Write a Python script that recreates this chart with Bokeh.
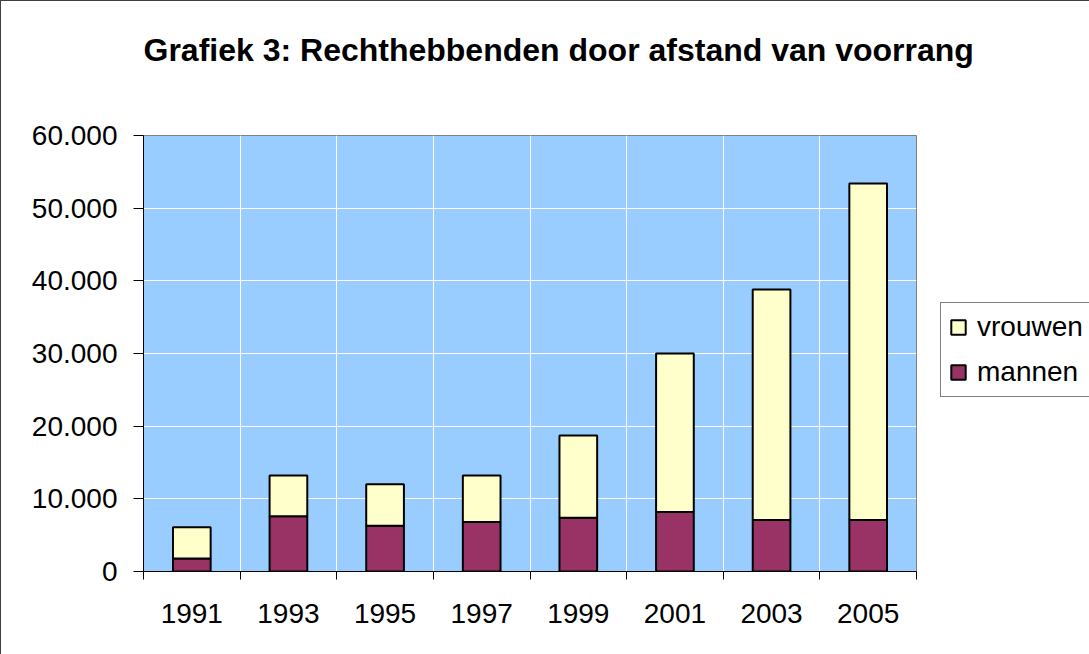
from bokeh.plotting import figure
from bokeh.models import (ColumnDataSource, Range1d, FixedTicker, Legend, LegendItem, Title)
from bokeh.embed import file_html
from bokeh.resources import INLINE

# ---- data ----
years = ["1991", "1993", "1995", "1997", "1999", "2001", "2003", "2005"]
mannen = [1800, 7600, 6300, 6800, 7400, 8200, 7100, 7100]
vrouwen = [4300, 5600, 5700, 6400, 11300, 21800, 31700, 46300]
y_ticks = [0, 10000, 20000, 30000, 40000, 50000, 60000]
y_tick_labels = ["0", "10.000", "20.000", "30.000", "40.000", "50.000", "60.000"]
title_text = "Grafiek 3: Rechthebbenden door afstand van voorrang"

FONT = "Liberation Sans"

xpos = [i + 0.5 for i in range(len(years))]
source = ColumnDataSource(dict(x=xpos, mannen=mannen, vrouwen=vrouwen))

p = figure(frame_width=773, frame_height=436, output_backend="svg", toolbar_location=None,
           x_range=Range1d(0, len(years)), y_range=Range1d(0, 60000),
           min_border_left=142, min_border_right=173, min_border_top=134,
           min_border_bottom=83)
p.styles = {"border-left": "1px solid #404040", "border-top": "1px solid #404040"}
p.background_fill_color = "#99CCFF"
p.border_fill_color = "white"
p.outline_line_color = "#808080"
p.outline_line_width = 1

renderers = p.vbar_stack(["mannen", "vrouwen"], x="x", width=0.39, source=source,
                         fill_color=["#993366", "#FFFFCC"], line_color="black",
                         line_width=2)

# title: a thin spacer next to the frame, then the real title further out
p.title.text = ""
p.add_layout(Title(text=" ", text_font_size="1px", standoff=60), "above")
p.add_layout(Title(text=title_text, align="left", offset=0, vertical_align="bottom",
                   standoff=10, text_font=FONT, text_font_style="bold",
                   text_font_size="32px", text_color="black"), "above")

# y axis
yax = p.yaxis[0]
yax.ticker = FixedTicker(ticks=y_ticks)
yax.major_label_overrides = {t: l for t, l in zip(y_ticks, y_tick_labels)}
yax.axis_line_color = "black"
yax.major_tick_line_color = "black"
yax.major_tick_out = 10
yax.major_tick_in = 0
yax.minor_tick_line_color = None
yax.major_label_standoff = 16
yax.major_label_text_font = FONT
yax.major_label_text_font_size = "28px"
yax.major_label_text_color = "black"

# x axis
xax = p.xaxis[0]
xax.ticker = FixedTicker(ticks=xpos, minor_ticks=list(range(len(years) + 1)))
xax.major_label_overrides = {x: y for x, y in zip(xpos, years)}
xax.axis_line_color = "black"
xax.major_tick_line_color = None
xax.major_tick_out = 0
xax.major_tick_in = 0
xax.minor_tick_line_color = "black"
xax.minor_tick_out = 8
xax.minor_tick_in = 0
xax.major_label_standoff = 24
xax.major_label_text_font = FONT
xax.major_label_text_font_size = "28px"
xax.major_label_text_color = "black"

# grids
p.ygrid.ticker = FixedTicker(ticks=y_ticks)
p.ygrid.grid_line_color = "white"
p.ygrid.grid_line_width = 1
p.xgrid.ticker = FixedTicker(ticks=list(range(len(years) + 1)))
p.xgrid.grid_line_color = "white"
p.xgrid.grid_line_width = 1

# legend
legend = Legend(items=[LegendItem(label="vrouwen", renderers=[renderers[1]]),
                       LegendItem(label="mannen", renderers=[renderers[0]])],
                location=(24, 174))
legend.border_line_color = "black"
legend.border_line_width = 1
legend.background_fill_color = "white"
legend.background_fill_alpha = 1
legend.padding = 8
legend.spacing = 13
legend.margin = 0
legend.glyph_width = 18
legend.glyph_height = 18
legend.label_height = 28
legend.label_standoff = 10
legend.label_text_font = FONT
legend.label_text_font_size = "28px"
legend.label_text_color = "black"
p.add_layout(legend, "right")

open("out.html", "w").write(file_html(p, INLINE))
